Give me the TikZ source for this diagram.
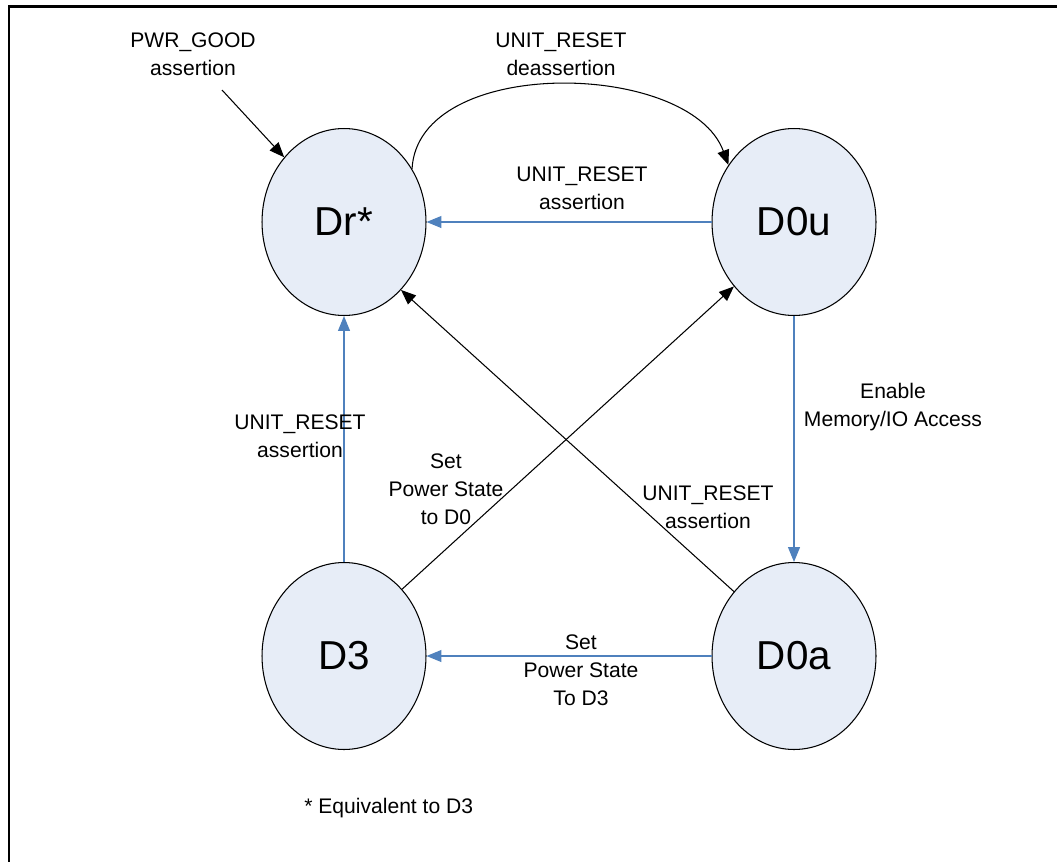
\documentclass[tikz,border=0pt]{standalone}
\usepackage{fontspec}
\setmainfont{Liberation Sans}
\usetikzlibrary{shapes,arrows.meta,positioning}
\usepackage{xcolor}
\definecolor{fillcustom}{RGB}{231,237,247}
\definecolor{bluecustom}{RGB}{79,129,189}
\tikzset{
    statenode/.style={draw=black, ellipse, line width=0.6pt, fill=fillcustom, minimum width=3.28cm, minimum height=3.74cm, inner sep=0pt, font=\fontsize{23}{27}\selectfont},
    edgelabel/.style={align=center, inner sep=0pt, font=\fontsize{12}{15.9}\selectfont},
    blackarrow/.style={draw=black, line width=0.6pt, -{Triangle[length=8.5pt,width=6.8pt]}},
    bluearrow/.style={draw=bluecustom, line width=0.7pt, -{Triangle[length=8.5pt,width=6.8pt]}}
}

\begin{document}
\begin{tikzpicture}[x=0.02cm, y=-0.02cm]
    \useasboundingbox (0,0) rectangle (1057,862);
    \draw[line width=1.4pt] (1057,6.7) -- (9,6.7) -- (9,862);

    \node[statenode] (dr) at (344,222) {Dr*};
    \node[statenode] (dzu) at (794,222) {D0u};
    \node[statenode] (dthree) at (344,656) {D3};
    \node[statenode] (dza) at (794,656) {D0a};

    \coordinate (pwr) at (222,90);
    \node[edgelabel] (pwrlabel) at (193,54) {PWR\_GOOD\\assertion};
    \draw[blackarrow] (pwr) -- (dr);

    \draw[blackarrow] (dr.38) .. controls (418,55) and (690,60) .. (dzu.139);
    \node[edgelabel] (deassertlabel) at (561,54) {UNIT\_RESET\\deassertion};

    \draw[bluearrow] (dzu) -- (dr);
    \node[edgelabel] (toplabel) at (582,188) {UNIT\_RESET\\assertion};

    \draw[bluearrow] (dthree) -- (dr);
    \node[edgelabel] (leftlabel) at (300,436) {UNIT\_RESET\\assertion};

    \draw[blackarrow] (dthree.49.5) -- (dzu.227.5);
    \node[edgelabel] (dzerolabel) at (446,489) {Set\\Power State\\to D0};

    \draw[blackarrow] (dza.133.6) -- (dr.-50);
    \node[edgelabel] (rightlabel) at (708,507) {UNIT\_RESET\\assertion};

    \draw[bluearrow] (dzu) -- (dza);
    \node[edgelabel] (enablelabel) at (893,407) {Enable\\Memory/IO Access};

    \draw[bluearrow] (dza) -- (dthree);
    \node[edgelabel] (dthreelabel) at (581,670) {Set\\Power State\\To D3};

    \node[edgelabel, anchor=west] (footnote) at (304,808) {* Equivalent to D3};
\end{tikzpicture}
\end{document}
